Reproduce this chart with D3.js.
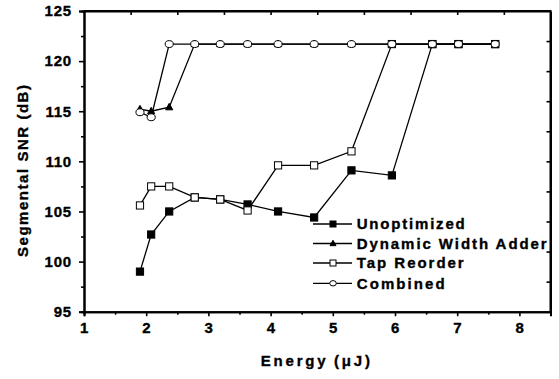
<!DOCTYPE html>
<html>
<head>
<meta charset="utf-8">
<script src="https://cdn.jsdelivr.net/npm/d3@7"></script>
<style>
  html, body { margin: 0; padding: 0; background: #fff; }
  svg { display: block; }
  svg text { font-family: "Liberation Sans", Arial, Helvetica, sans-serif; font-weight: bold; fill: #000; stroke: #000; stroke-width: 0.35px; }
</style>
</head>
<body>
<svg id="chart" width="559" height="379"></svg>
<script>
// ---- data ----
const energy       = [1.90, 2.08, 2.37, 2.78, 3.19, 3.63, 4.12, 4.70, 5.30, 5.95, 6.60, 7.02, 7.61];
const unoptimized  = [99.0, 102.7, 105.0, 106.4, 106.2, 105.7, 105.0, 104.4, 109.1, 108.6, 121.7, 121.7, 121.7];
const dynamicWidth = [115.2, 115.0, 115.4, 121.7, 121.7, 121.7, 121.7, 121.7, 121.7, 121.7, 121.7, 121.7, 121.7];
const tapReorder   = [105.6, 107.5, 107.5, 106.4, 106.2, 105.1, 109.6, 109.6, 111.0, 121.7, 121.7, 121.7, 121.7];
const combined     = [114.9, 114.4, 121.7, 121.7, 121.7, 121.7, 121.7, 121.7, 121.7, 121.7, 121.7, 121.7, 121.7];
const seriesNames  = ["Unoptimized", "Dynamic Width Adder", "Tap Reorder", "Combined"];
const xTickValues  = [1, 2, 3, 4, 5, 6, 7, 8];
const yTickValues  = [95, 100, 105, 110, 115, 120, 125];
const xLabelMain = "Energy";
const xLabelUnit = "(\u03BCJ)";
const yLabel = "Segmental SNR (dB)";

// ---- layout ----
const svg = d3.select("#chart");
const L = 84, R = 550.5, T = 11, B = 311.7;
const x = d3.scaleLinear().domain([1, 8.5]).range([L, R]);
const y = d3.scaleLinear().domain([95, 125]).range([B, T]);

// ---- axes ----
const axisStyle = g => {
  g.attr("font-family", null).attr("font-size", null);
  g.selectAll("path.domain").attr("stroke", "#000").attr("stroke-width", 2);
  g.selectAll(".tick line").attr("stroke", "#000").attr("stroke-width", 1.6);
  g.selectAll("text").style("font-size", "15px").style("font-weight", "bold");
};

// bottom minor ticks
svg.append("g").attr("transform", `translate(0,${B})`)
  .call(d3.axisBottom(x).tickValues(d3.range(1.5, 8.5, 1)).tickSize(3).tickFormat(""))
  .call(axisStyle);
// bottom major
svg.append("g").attr("transform", `translate(0,${B})`)
  .call(d3.axisBottom(x).tickValues(xTickValues).tickSize(4.5).tickPadding(6).tickFormat(d3.format("d")))
  .call(axisStyle)
  .call(g => g.selectAll("text").attr("letter-spacing", 0.5));

// left minor
svg.append("g").attr("transform", `translate(${L},0)`)
  .call(d3.axisLeft(y).tickValues(d3.range(97.5, 125, 5)).tickSize(3).tickFormat(""))
  .call(axisStyle);
// left major
svg.append("g").attr("transform", `translate(${L},0)`)
  .call(d3.axisLeft(y).tickValues(yTickValues).tickSize(5).tickPadding(7).tickFormat(d3.format("d")))
  .call(axisStyle)
  .call(g => g.selectAll("text").attr("letter-spacing", 0.8));

// top axis (10 intervals, inward ticks, no labels)
const xTop = d3.scaleLinear().domain([0, 10]).range([L, R]);
svg.append("g").attr("transform", `translate(0,${T})`)
  .call(d3.axisBottom(xTop).tickValues(d3.range(1, 10)).tickSize(4).tickSizeOuter(0).tickFormat(""))
  .call(axisStyle);
svg.append("line").attr("x1", L).attr("x2", R).attr("y1", T).attr("y2", T)
  .attr("stroke", "#000").attr("stroke-width", 2);

// right axis (10 intervals, inward ticks)
const yRight = d3.scaleLinear().domain([0, 10]).range([B, T]);
svg.append("g").attr("transform", `translate(${R},0)`)
  .call(d3.axisLeft(yRight).tickValues(d3.range(1, 10)).tickSize(4).tickSizeOuter(0).tickFormat(""))
  .call(axisStyle);
svg.append("line").attr("x1", R).attr("x2", R).attr("y1", T - 1).attr("y2", B + 1)
  .attr("stroke", "#000").attr("stroke-width", 2);

// ---- axis titles ----
const xt = svg.append("text").attr("y", 366).style("font-size", "15px");
xt.append("tspan").attr("x", 260.7)
  .attr("textLength", 65).attr("lengthAdjust", "spacing").text(xLabelMain);
xt.append("tspan").attr("x", 334)
  .attr("textLength", 36).attr("lengthAdjust", "spacing").text(xLabelUnit);

svg.append("text")
  .attr("transform", "translate(28,257) rotate(-90)")
  .style("font-size", "15px")
  .attr("textLength", 172).attr("lengthAdjust", "spacing")
  .text(yLabel);

// ---- series ----
const series = [
  { name: seriesNames[0], values: unoptimized,  shape: "square",   fill: "#000" },
  { name: seriesNames[1], values: dynamicWidth, shape: "triangle", fill: "#000" },
  { name: seriesNames[2], values: tapReorder,   shape: "square",   fill: "#fff" },
  { name: seriesNames[3], values: combined,     shape: "circle",   fill: "#fff" }
];

const line = d3.line().x((d, i) => x(energy[i])).y(d => y(d));

function drawMarker(g, shape, fill, cx, cy, s) {
  if (shape === "square") {
    g.append("rect").attr("x", cx - s / 2).attr("y", cy - s / 2)
      .attr("width", s).attr("height", s)
      .attr("fill", fill).attr("stroke", "#000").attr("stroke-width", 1);
  } else if (shape === "triangle") {
    const h = s * 0.9;
    g.append("path")
      .attr("d", `M${cx},${cy - h * 0.6}L${cx + s / 2},${cy + h * 0.4}L${cx - s / 2},${cy + h * 0.4}Z`)
      .attr("fill", fill).attr("stroke", "#000").attr("stroke-width", 1);
  } else {
    g.append("ellipse").attr("cx", cx).attr("cy", cy)
      .attr("rx", s / 2 + 0.3).attr("ry", s / 2 - 0.3)
      .attr("fill", fill).attr("stroke", "#000").attr("stroke-width", 1);
  }
}

series.forEach(s => {
  const g = svg.append("g");
  g.append("path").datum(s.values).attr("d", line)
    .attr("fill", "none").attr("stroke", "#000").attr("stroke-width", 1.3);
  s.values.forEach((v, i) => drawMarker(g, s.shape, s.fill, x(energy[i]), y(v), s.shape === "circle" ? 7.5 : 7.2));
});

// ---- legend ----
const legendRows = [224, 243.5, 263, 283.3];
const legendW = [108, 190, 107, 88];
series.forEach((s, i) => {
  const g = svg.append("g");
  const ly = legendRows[i];
  g.append("line").attr("x1", 313).attr("x2", 352).attr("y1", ly).attr("y2", ly)
    .attr("stroke", "#000").attr("stroke-width", 1.3);
  drawMarker(g, s.shape, s.fill, 333, ly, 6);
  g.append("text").attr("x", 356.7).attr("y", ly + 5.3)
    .style("font-size", "15px")
    .attr("textLength", legendW[i]).attr("lengthAdjust", "spacing")
    .text(s.name);
});
</script>
</body>
</html>
